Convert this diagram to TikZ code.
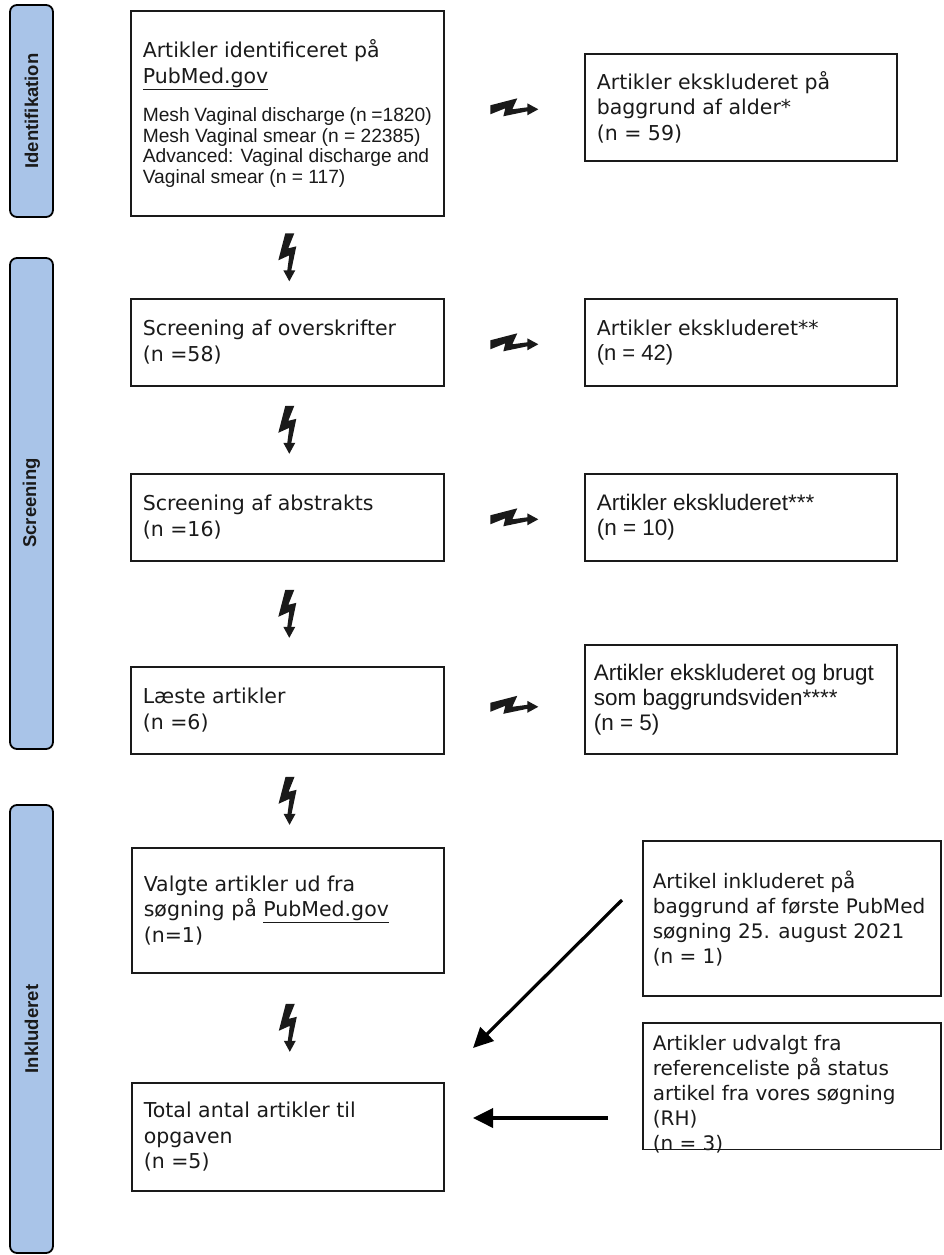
\documentclass[tikz,border=0pt]{standalone}
\usepackage{fontspec}
\setmainfont{Liberation Sans}
\newfontfamily\tah{DejaVu Sans}
\usetikzlibrary{arrows.meta,calc}
\definecolor{sidefill}{HTML}{A9C4E8}
\definecolor{ink}{HTML}{1A1A1A}
\newcommand\resetsp{\spaceskip=0pt\xspaceskip=0pt\relax}
\begin{document}
\begin{tikzpicture}[x=1pt,y=-1pt,
  box/.style={draw=ink, line width=1.6pt, rectangle, anchor=north west, align=left,
    inner xsep=12pt, inner ysep=0pt, text=ink},
  side/.style={draw=black, line width=1.8pt, rounded corners=7pt, fill=sidefill},
  sidelabel/.style={rotate=90, font=\fontsize{18.5}{21}\selectfont\bfseries, text=ink},
  tf/.style={font=\tah\fontsize{20.5}{25.5}\selectfont},
  af/.style={font=\fontsize{22.5}{25}\selectfont},
  conn/.style={draw=black, line width=3.2pt, -{Triangle[length=20pt,width=19pt]}},
  boltdown/.pic={\fill[ink] (-2pt,24pt) -- (7pt,24pt) -- (1pt,9pt) -- (9pt,11pt) -- (4pt,-13pt)
     -- (8pt,-13pt) -- (2pt,-24pt) -- (-4pt,-13pt) -- (0pt,-13pt) -- (2pt,2pt) -- (-9pt,-3pt) -- cycle;},
  boltright/.pic={\fill[ink] (-24pt,2pt) -- (-24pt,-7pt) -- (-9pt,-1pt) -- (-11pt,-9pt) -- (13pt,-4pt)
     -- (13pt,-8pt) -- (24pt,-2pt) -- (13pt,4pt) -- (13pt,0pt) -- (-2pt,-2pt) -- (3pt,9pt) -- cycle;}
]
\useasboundingbox (0,0) rectangle (943,1255);

% side bars
\draw[side] (10,5) rectangle (53,217);
\draw[side] (10,258) rectangle (53,749);
\draw[side] (10,805) rectangle (53,1253);
\node[sidelabel] (lid) at (31.5,111) {Identifikation};
\node[sidelabel] (lsc) at (31.5,503) {Screening};
\node[sidelabel] (lin) at (31.5,1029) {Inkluderet};

% boxes
\node[box, minimum width=313pt, minimum height=205pt, text width=289pt] (A) at (130,10)
 {{\tah\fontsize{20.5}{26}\selectfont\resetsp Artikler identificeret på\par \underline{PubMed.gov}\par}
  \vspace{18pt}
  {\fontsize{19.2}{20.5}\selectfont\resetsp Mesh Vaginal discharge (n =1820)\par
   Mesh Vaginal smear (n = 22385)\par
   Advanced: Vaginal discharge and\par
   Vaginal smear (n = 117)\par}};
\node[box, tf, minimum width=312pt, minimum height=107pt, text width=288pt] (B) at (584,53)
 {\resetsp Artikler ekskluderet på\\ baggrund af alder*\\ (n = 59)};

\node[box, tf, minimum width=313pt, minimum height=87pt, text width=289pt] (S1) at (130,298)
 {\resetsp Screening af overskrifter\\ (n =58)};
\node[box, minimum width=312pt, minimum height=87pt, text width=288pt] (E1) at (584,298)
 {{\tah\fontsize{20.5}{25.5}\selectfont\resetsp Artikler ekskluderet**\par}
  {\fontsize{22}{25.5}\selectfont\resetsp (n = 42)\par}};

\node[box, tf, minimum width=313pt, minimum height=87pt, text width=289pt] (S2) at (130,473)
 {\resetsp Screening af abstrakts\\ (n =16)};
\node[box, af, minimum width=312pt, minimum height=87pt, text width=288pt] (E2) at (584,473)
 {\resetsp Artikler ekskluderet***\\ (n = 10)};

\node[box, tf, minimum width=313pt, minimum height=87pt, text width=289pt] (L) at (130,666)
 {\resetsp Læste artikler\\ (n =6)};
\node[box, af, inner xsep=9pt, minimum width=312pt, minimum height=109pt, text width=294pt] (E3) at (584,644)
 {\resetsp Artikler ekskluderet og brugt\\ som baggrundsviden****\\ (n = 5)};

\node[box, tf, minimum width=312pt, minimum height=125pt, text width=288pt] (V) at (131,847)
 {\resetsp Valgte artikler ud fra\\ søgning på \underline{PubMed.gov}\\ (n=1)};
\node[box, font=\tah\fontsize{20}{25}\selectfont, inner xsep=10pt, minimum width=298pt,
  minimum height=155pt, text width=278pt] (AI) at (642,840)
 {\resetsp Artikel inkluderet på\\ baggrund af første PubMed\\ søgning 25. august 2021\\ (n = 1)};

\node[box, tf, minimum width=312pt, minimum height=108pt, text width=288pt] (T) at (131,1082)
 {\resetsp Total antal artikler til\\ opgaven\\ (n =5)};
\node[box, font=\tah\fontsize{20}{25}\selectfont, inner xsep=10pt, inner ysep=12pt,
  minimum width=298pt, text width=278pt] (AU) at (642,1022)
 {\resetsp Artikler udvalgt fra\\ referenceliste på status\\ artikel fra vores søgning\\ (RH)\\ (n = 3)\par\vspace{-15pt}};

% lightning connectors (vertical)
\pic at ($(A.south)!0.5!(S1.north)$) {boltdown};
\pic at ($(S1.south)!0.5!(S2.north)$) {boltdown};
\pic at ($(S2.south)!0.5!(L.north)$) {boltdown};
\pic at ($(L.south)!0.5!(V.north)$) {boltdown};
\pic at ($(V.south)!0.5!(T.north)$) {boltdown};

% lightning connectors (horizontal)
\coordinate (h1) at ($(A.east)!0.5!(B.west)$);
\coordinate (h2) at ($(S1.east)!0.5!(E1.west)$);
\coordinate (h3) at ($(S2.east)!0.5!(E2.west)$);
\coordinate (h4) at ($(L.east)!0.5!(E3.west)$);
\pic at (h1 |- B.west) {boltright};
\pic at (h2) {boltright};
\pic at (h3) {boltright};
\pic at (h4) {boltright};

% plain arrows
\coordinate (ds) at (622,900);
\coordinate (de) at (473,1048);
\coordinate (hs) at (608,1118);
\coordinate (he) at (473,1118);
\draw[conn] (ds) -- (de);
\draw[conn, line width=3.6pt] (hs) -- (he);
\end{tikzpicture}
\end{document}
